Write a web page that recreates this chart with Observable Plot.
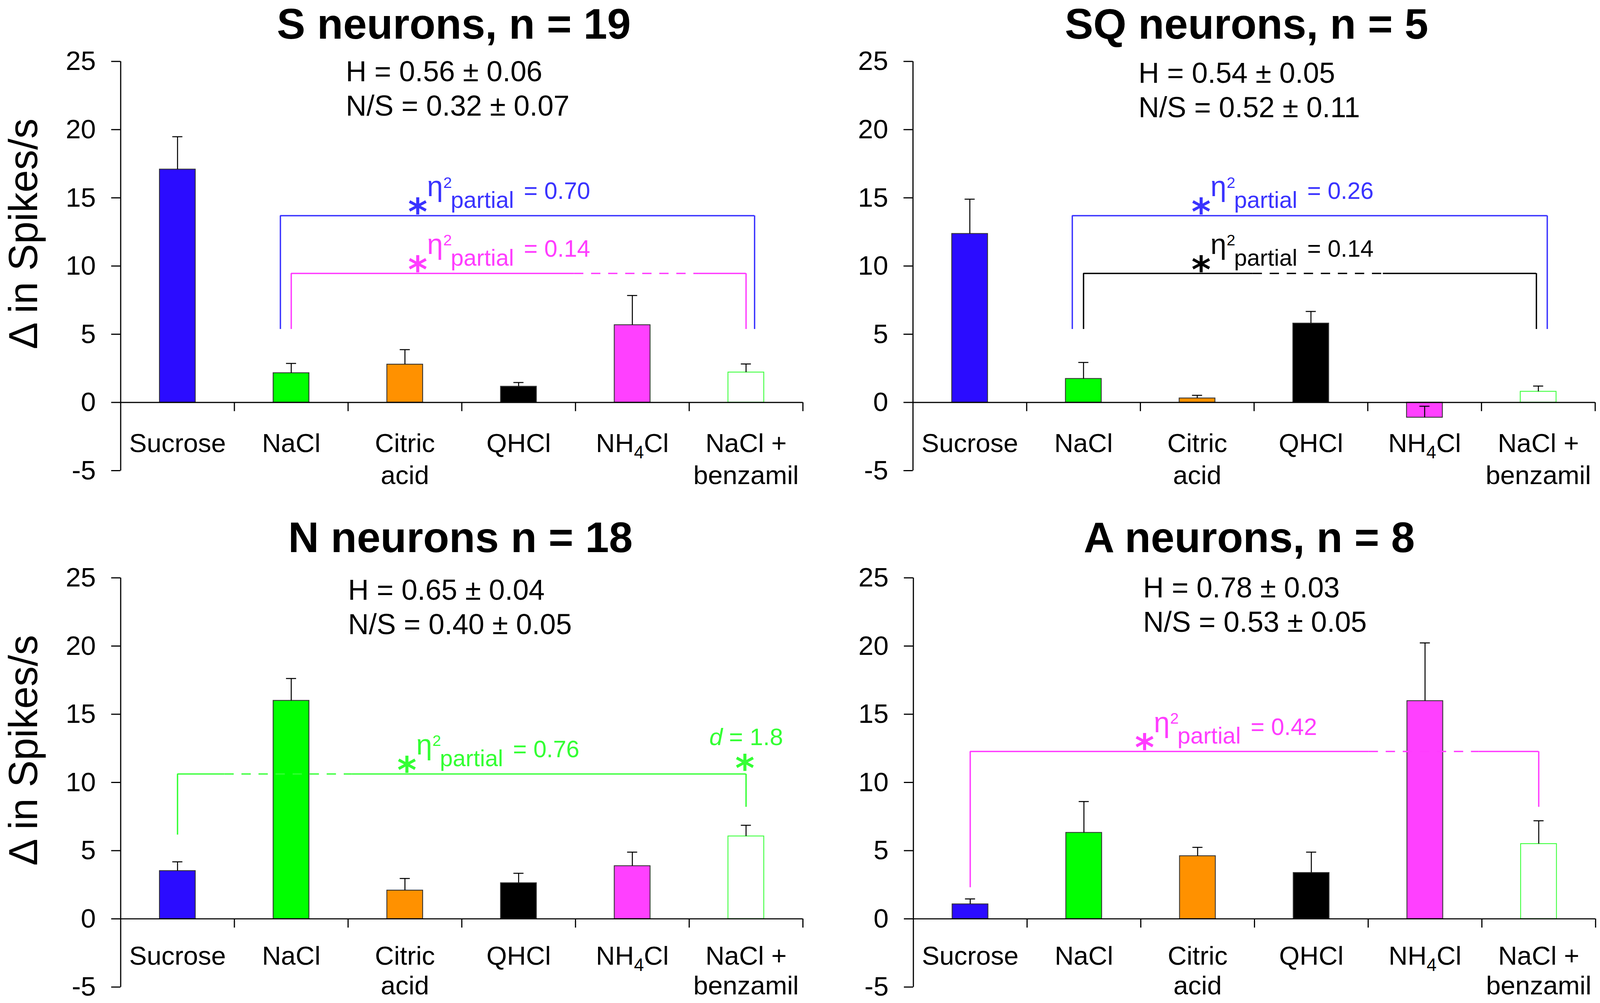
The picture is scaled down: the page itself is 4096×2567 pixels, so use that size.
<!DOCTYPE html>
<html>
<head>
<meta charset="utf-8">
<script src="https://cdn.jsdelivr.net/npm/d3@7"></script>
<script src="https://cdn.jsdelivr.net/npm/@observablehq/plot@0.6"></script>
<style>
  html, body { margin: 0; padding: 0; background: #fff; }
  #chart { position: relative; width: 4096px; height: 2567px; overflow: hidden; background: #fff; }
  #chart svg { position: absolute; }
</style>
</head>
<body>
<div id="chart"></div>
<script>
// ---------------- data ----------------
const categories = ["Sucrose", "NaCl", "Citric acid", "QHCl", "NH4Cl", "NaCl + benzamil"];
const categoryLabels = ["Sucrose", "NaCl", "Citric\nacid", "QHCl", "NH4Cl", "NaCl +\nbenzamil"];
const yTicks = [-5, 0, 5, 10, 15, 20, 25];
const yLabel = "Δ in Spikes/s";

const panelTitles = ["S neurons, n = 19", "SQ neurons, n = 5", "N neurons n = 18", "A neurons, n = 8"];
const hIndex = ["H = 0.56 ± 0.06", "H = 0.54 ± 0.05", "H = 0.65 ± 0.04", "H = 0.78 ± 0.03"];
const nsRatio = ["N/S = 0.32 ± 0.07", "N/S = 0.52 ± 0.11", "N/S = 0.40 ± 0.05", "N/S = 0.53 ± 0.05"];

const sMeans  = [17.09, 2.16, 2.79, 1.17, 5.68, 2.21];
const sSem    = [2.39, 0.70, 1.08, 0.29, 2.16, 0.61];
const sqMeans = [12.37, 1.74, 0.31, 5.80, -1.10, 0.80];
const sqSem   = [2.53, 1.19, 0.21, 0.87, 0.82, 0.40];
const nMeans  = [3.52, 16.00, 2.09, 2.63, 3.88, 6.06];
const nSem    = [0.66, 1.62, 0.87, 0.71, 1.01, 0.80];
const aMeans  = [1.08, 6.32, 4.61, 3.38, 15.98, 5.50];
const aSem    = [0.38, 2.28, 0.63, 1.51, 4.25, 1.69];
const panelMeans = [sMeans, sqMeans, nMeans, aMeans];
const panelSem = [sSem, sqSem, nSem, aSem];

// significance brackets (y values in spikes/s)
const brackets = [
  {panel: 0, from: "NaCl", to: "NaCl + benzamil", level: 13.69, bottoms: [5.37, 5.37], dashed: null, eta: "0.70", labelAt: "Citric acid"},
  {panel: 0, from: "NaCl", to: "NaCl + benzamil", level: 9.46, bottoms: [5.37, 5.37], dashed: "NH4Cl", eta: "0.14", labelAt: "Citric acid"},
  {panel: 1, from: "NaCl", to: "NaCl + benzamil", level: 13.69, bottoms: [5.37, 5.37], dashed: null, eta: "0.26", labelAt: "Citric acid"},
  {panel: 1, from: "NaCl", to: "NaCl + benzamil", level: 9.46, bottoms: [5.37, 5.37], dashed: "QHCl", eta: "0.14", labelAt: "Citric acid"},
  {panel: 2, from: "Sucrose", to: "NaCl + benzamil", level: 10.62, bottoms: [6.16, 8.2], dashed: "NaCl", eta: "0.76", labelAt: "Citric acid"},
  {panel: 3, from: "Sucrose", to: "NaCl + benzamil", level: 12.27, bottoms: [2.3, 8.2], dashed: "NH4Cl", eta: "0.42", labelAt: "Citric acid"}
];
const effectSizes = [{panel: 2, at: "NaCl + benzamil", level: 10.62, d: "1.8"}];

// ---------------- styles / layout (reference pixels) ----------------
const s = 4096 / 4130;
const k = v => v * s;
const FONT = '"Liberation Sans", Arial, Helvetica, sans-serif';
const BLUE = "#3a33ff", MAGENTA = "#ff3cff", GREEN = "#33ff33";
const barFills = ["#2b0cff", "#00ff00", "#ff9100", "#000000", "#ff40ff", "#ffffff"];
const barStrokes = ["#333333", "#333333", "#333333", "#333333", "#333333", "#38ff38"];
const bracketStyles = [
  {color: BLUE, legDx: [-28, 22], dash: null, labelDx: 33},
  {color: MAGENTA, legDx: [0, 0], dash: [-150, 172], labelDx: 33},
  {color: BLUE, legDx: [-29, 23], dash: null, labelDx: 10},
  {color: "#000000", legDx: [0, -5], dash: [-150, 186], labelDx: 10},
  {color: GREEN, legDx: [0, 0], dash: [-172, 157], labelDx: 5},
  {color: MAGENTA, legDx: [0, 0], dash: [-145, 139], labelDx: -137}
];
const panels = [
  {left: 0, top: 0, w: 2080, h: 1294, axisX: 311, yTop: 158, titleX: 1171, titleDy: -59, statsDx: 581, statsDy: 51, ylabel: true, labPad: -106, labLH: 1.21},
  {left: 2080, top: 0, w: 2050, h: 1294, axisX: 2356, yTop: 158, titleX: 3217, titleDy: -59, statsDx: 582, statsDy: 55, ylabel: false, labPad: -106, labLH: 1.21},
  {left: 0, top: 1294, w: 2080, h: 1294, axisX: 311, yTop: 1491, titleX: 1188, titleDy: -66, statsDx: 587, statsDy: 56, ylabel: true, labPad: -112, labLH: 1.13},
  {left: 2080, top: 1294, w: 2050, h: 1294, axisX: 2357, yTop: 1491, titleX: 3224, titleDy: -66, statsDx: 593, statsDy: 50, ylabel: false, labPad: -112, labLH: 1.13}
];
const FRAME_W = 1761, FRAME_H = 1056;
const PAD = 0.685;
const STEP = FRAME_W / categories.length;
const BW = STEP * (1 - PAD);

function bracketMarks(b, st) {
  const c = st.color, sw = k(3.5);
  const m = [];
  m.push(Plot.ruleX([b], {x: d => d.from, y1: d => d.bottoms[0], y2: d => d.level, dx: k(st.legDx[0]), stroke: c, strokeWidth: sw}));
  m.push(Plot.ruleX([b], {x: d => d.to, y1: d => d.bottoms[1], y2: d => d.level, dx: k(st.legDx[1]), stroke: c, strokeWidth: sw}));
  const seg = (c1, o1, c2, o2, dashed) => Plot.ruleY([b], {
    y: d => d.level, x1: () => c1, x2: () => c2,
    insetLeft: k(BW / 2 + o1), insetRight: k(BW / 2 - o2),
    stroke: c, strokeWidth: sw, strokeDasharray: dashed ? `${k(24)},${k(20)}` : undefined
  });
  if (b.dashed) {
    m.push(seg(b.from, st.legDx[0], b.dashed, st.dash[0], false));
    m.push(seg(b.dashed, st.dash[0], b.dashed, st.dash[1], true));
    m.push(seg(b.dashed, st.dash[1], b.to, st.legDx[1], false));
  } else {
    m.push(seg(b.from, st.legDx[0], b.to, st.legDx[1], false));
  }
  const X = st.labelDx;
  const lab = (text, dx, dy, fs, extra = {}) => Plot.text([b], {
    x: d => d.labelAt, y: d => d.level, text: () => text,
    dx: k(dx), dy: k(dy), fontSize: k(fs), fill: c, fontFamily: FONT,
    lineAnchor: "bottom", textAnchor: "start", ...extra
  });
  m.push(lab("*", X, 23, 95, {textAnchor: "middle", fontFamily: '"DejaVu Sans", sans-serif', fontWeight: "bold"}));
  m.push(lab("η", X + 24, -50, 74));
  m.push(lab("2", X + 66, -72, 40));
  m.push(lab("partial", X + 85, -20, 60));
  m.push(lab("= " + b.eta, X + 274, -43, 61));
  return m;
}

function effectMarks(e) {
  const c = GREEN;
  const base = {x: d => d.at, y: d => d.level, fill: c, fontFamily: FONT, lineAnchor: "bottom", textAnchor: "start"};
  return [
    Plot.text([e], {...base, text: () => "d", dx: k(-95), dy: k(-75), fontSize: k(62), fontStyle: "italic"}),
    Plot.text([e], {...base, text: d => "= " + d.d, dx: k(-44), dy: k(-75), fontSize: k(62)}),
    Plot.text([e], {...base, text: () => "*", dx: k(-3), dy: k(18), fontSize: k(95), textAnchor: "middle", fontFamily: '"DejaVu Sans", sans-serif', fontWeight: "bold"})
  ];
}

const chart = document.getElementById("chart");
panels.forEach((p, i) => {
  const rows = categories.map((c, j) => ({cat: c, value: panelMeans[i][j], err: panelSem[i][j], fill: barFills[j], stroke: barStrokes[j]}));
  const marks = [
    Plot.barY(rows, {x: "cat", y: "value", fill: "fill", stroke: "stroke", strokeWidth: k(2.2)}),
    Plot.ruleX(rows, {x: "cat", y1: "value", y2: d => d.value + d.err, stroke: "#000", strokeWidth: k(2.6)}),
    Plot.tickY(rows, {x: "cat", y: d => d.value + d.err, stroke: "#000", strokeWidth: k(2.6), insetLeft: k((BW - 26) / 2), insetRight: k((BW - 26) / 2)}),
    Plot.ruleY([0], {stroke: "#000", strokeWidth: k(3)}),
    Plot.ruleX([categories[0]], {x: d => d, y1: -5, y2: 25, dx: k(-STEP / 2), stroke: "#000", strokeWidth: k(3)}),
    Plot.ruleX(categories, {x: d => d, y1: 0, y2: 0, insetBottom: k(-23), dx: k(STEP / 2), stroke: "#000", strokeWidth: k(3)}),
    Plot.axisY({ticks: yTicks, tickSize: k(24), tickPadding: k(40), fontSize: k(70), tickFormat: d => String(d), label: null, strokeWidth: k(3), fontFamily: FONT}),
    Plot.axisX({tickSize: 0, tickPadding: k(p.labPad), tickFormat: c => categoryLabels[categories.indexOf(c)], fontSize: k(68), lineHeight: p.labLH, label: null, fontFamily: FONT}),
    Plot.text([panelTitles[i]], {text: d => d, frameAnchor: "top", dx: k(p.titleX - (p.axisX + FRAME_W / 2)), dy: k(p.titleDy), fontSize: k(110), fontWeight: "bold", lineAnchor: "bottom", textAnchor: "middle", fontFamily: FONT}),
    Plot.text([hIndex[i] + "\n" + nsRatio[i]], {text: d => d, frameAnchor: "top-left", dx: k(p.statsDx), dy: k(p.statsDy + 89), fontSize: k(74), lineHeight: 1.2, lineAnchor: "bottom", textAnchor: "start", fontFamily: FONT})
  ];
  if (p.ylabel) {
    marks.push(Plot.text([yLabel], {text: d => d, frameAnchor: "left", rotate: -90, dx: k(62 - 311), dy: k(-83), fontSize: k(104), textAnchor: "middle", lineAnchor: "middle", fontFamily: FONT}));
  }
  brackets.forEach((b, bi) => { if (b.panel === i) marks.push(...bracketMarks(b, bracketStyles[bi])); });
  effectSizes.forEach(e => { if (e.panel === i) marks.push(...effectMarks(e)); });

  const svg = Plot.plot({
    width: k(p.w), height: k(p.h),
    marginLeft: k(p.axisX - p.left),
    marginRight: k(p.left + p.w - (p.axisX + FRAME_W)),
    marginTop: k(p.yTop - p.top),
    marginBottom: k(p.top + p.h - (p.yTop + FRAME_H)),
    x: {domain: categories, paddingInner: PAD, paddingOuter: PAD / 2, round: false},
    y: {domain: [-5, 25]},
    color: {type: "identity"},
    style: {background: "transparent", overflow: "visible", maxWidth: "none", fontFamily: FONT, color: "#000"},
    marks
  });
  svg.style.left = k(p.left) + "px";
  svg.style.top = k(p.top) + "px";
  // chemical subscript in NH4Cl
  svg.querySelectorAll("text").forEach(t => {
    if (t.textContent === "NH4Cl") {
      while (t.firstChild) t.removeChild(t.firstChild);
      const NS = "http://www.w3.org/2000/svg";
      const a = document.createElementNS(NS, "tspan"); a.textContent = "NH";
      const b = document.createElementNS(NS, "tspan"); b.textContent = "4";
      b.setAttribute("font-size", k(46)); b.setAttribute("dy", k(16));
      const c = document.createElementNS(NS, "tspan"); c.textContent = "Cl";
      c.setAttribute("dy", -k(16));
      t.append(a, b, c);
    }
  });
  chart.appendChild(svg);
});
</script>
</body>
</html>
